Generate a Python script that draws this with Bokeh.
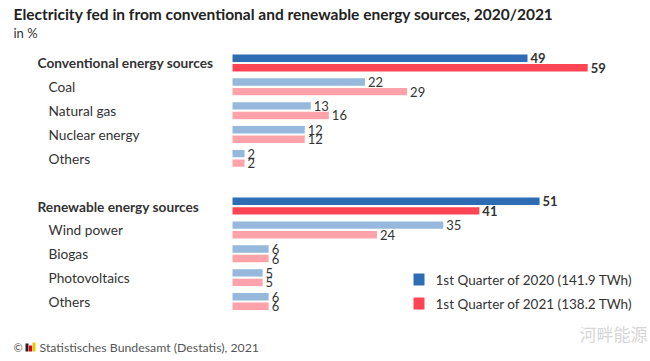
from bokeh.plotting import figure
from bokeh.models import Range1d, Label, BoxAnnotation, ColumnDataSource
from bokeh.core.properties import value
from bokeh.embed import file_html
from bokeh.resources import INLINE

# ---------------- data ----------------
title_text = "Electricity fed in from conventional and renewable energy sources, 2020/2021"
subtitle_text = "in %"
categories = ["Conventional energy sources", "Coal", "Natural gas", "Nuclear energy", "Others",
              "Renewable energy sources", "Wind power", "Biogas", "Photovoltaics", "Others"]
is_total = [True, False, False, False, False, True, False, False, False, False]
row_pos = [0, 1, 2, 3, 4, 6, 7, 8, 9, 10]
q1_2020 = [49, 22, 13, 12, 2, 51, 35, 6, 5, 6]
q1_2021 = [59, 29, 16, 12, 2, 41, 24, 6, 5, 6]
series_labels = ["1st Quarter of 2020 (141.9 TWh)", "1st Quarter of 2021 (138.2 TWh)"]
source_text = "Statistisches Bundesamt (Destatis), 2021"
watermark_text = "河畔能源"

# ---------------- styling ----------------
BLUE_DARK, BLUE_LIGHT = "#2e6db3", "#95b8dc"
RED_DARK, RED_LIGHT = "#ff4553", "#ffa2a9"
TXT = "#333333"
FONT = "Lato"
W, H = 650, 361
OFF = 0.2
BAR_H = 0.31

p = figure(width=W, height=H, output_backend="svg", toolbar_location=None,
           x_range=Range1d(-38.54, 69.43), y_range=Range1d(12.516, -2.62),
           x_axis_location=None, y_axis_location=None,
           min_border=0, min_border_left=0, min_border_right=0,
           min_border_top=0, min_border_bottom=0)
p.outline_line_color = None
p.xgrid.visible = False
p.ygrid.visible = False
p.background_fill_color = "white"
p.border_fill_color = "white"

c20 = [BLUE_DARK if t else BLUE_LIGHT for t in is_total]
c21 = [RED_DARK if t else RED_LIGHT for t in is_total]
src = ColumnDataSource(dict(
    y20=[r - OFF for r in row_pos], y21=[r + OFF for r in row_pos],
    v20=q1_2020, v21=q1_2021, c20=c20, c21=c21,
))
p.hbar(y="y20", left=0, right="v20", height=BAR_H, fill_color="c20", line_color=None, source=src)
p.hbar(y="y21", left=0, right="v21", height=BAR_H, fill_color="c21", line_color=None, source=src)

# value labels
for tot in (True, False):
    idx = [i for i, t in enumerate(is_total) if t == tot]
    s = ColumnDataSource(dict(
        x=[q1_2020[i] for i in idx] + [q1_2021[i] for i in idx],
        y=[row_pos[i] - OFF for i in idx] + [row_pos[i] + OFF for i in idx],
        t=[str(q1_2020[i]) for i in idx] + [str(q1_2021[i]) for i in idx],
    ))
    p.text(x="x", y="y", text="t", source=s, x_offset=3, y_offset=0,
           text_baseline="middle", text_align="left",
           text_font=value(FONT), text_font_size="13px",
           text_font_style="bold" if tot else "normal", text_color=TXT)

# category labels
for tot in (True, False):
    idx = [i for i, t in enumerate(is_total) if t == tot]
    s = ColumnDataSource(dict(
        x=[0] * len(idx), y=[row_pos[i] for i in idx], t=[categories[i] for i in idx]))
    p.text(x="x", y="y", text="t", source=s, x_offset=-195 if tot else -184,
           text_baseline="middle", text_align="left",
           text_font=value(FONT), text_font_size="13.7px",
           text_font_style="bold" if tot else "normal", text_color=TXT)

# title / subtitle
p.add_layout(Label(x=13, y=H - 13, x_units="screen", y_units="screen", text=title_text,
                   text_font=FONT, text_font_size="15.5px", text_font_style="bold",
                   text_color="#222222", text_baseline="middle", text_align="left"))
p.add_layout(Label(x=13, y=H - 32, x_units="screen", y_units="screen", text=subtitle_text,
                   text_font=FONT, text_font_size="13px",
                   text_color=TXT, text_baseline="middle", text_align="left"))

# legend
for (bot, top, col, lab, yc) in ((H - 285, H - 273, BLUE_DARK, series_labels[0], H - 279),
                                  (H - 309, H - 297, RED_DARK, series_labels[1], H - 303)):
    p.add_layout(BoxAnnotation(left=413, right=424, bottom=bot, top=top,
                               left_units="screen", right_units="screen",
                               bottom_units="screen", top_units="screen",
                               fill_color=col, fill_alpha=1, line_color=None))
    p.add_layout(Label(x=435, y=yc, x_units="screen", y_units="screen", text=lab,
                       text_font=FONT, text_font_size="13.5px", text_color=TXT,
                       text_baseline="middle", text_align="left"))

# source note
p.add_layout(Label(x=13, y=H - 347, x_units="screen", y_units="screen", text="©",
                   text_font=FONT, text_font_size="11px", text_color="#555555",
                   text_baseline="middle", text_align="left"))
for (l, r, b, t, col) in ((25, 28, H - 351, H - 343, "#222222"),
                          (28.5, 31.5, H - 351, H - 345, "#e3001b"),
                          (32, 35, H - 351, H - 342, "#f2c500")):
    p.add_layout(BoxAnnotation(left=l, right=r, bottom=b, top=t,
                               left_units="screen", right_units="screen",
                               bottom_units="screen", top_units="screen",
                               fill_color=col, fill_alpha=1, line_color=None))
p.add_layout(Label(x=39, y=H - 347, x_units="screen", y_units="screen", text=source_text,
                   text_font=FONT, text_font_size="12.3px", text_color="#555555",
                   text_baseline="middle", text_align="left"))

# watermark
p.add_layout(Label(x=579, y=H - 333, x_units="screen", y_units="screen", text=watermark_text,
                   text_font="Noto Sans CJK SC", text_font_size="17px", text_color="#d6d6d6",
                   text_baseline="middle", text_align="left"))

open("out.html", "w").write(file_html(p, INLINE))
